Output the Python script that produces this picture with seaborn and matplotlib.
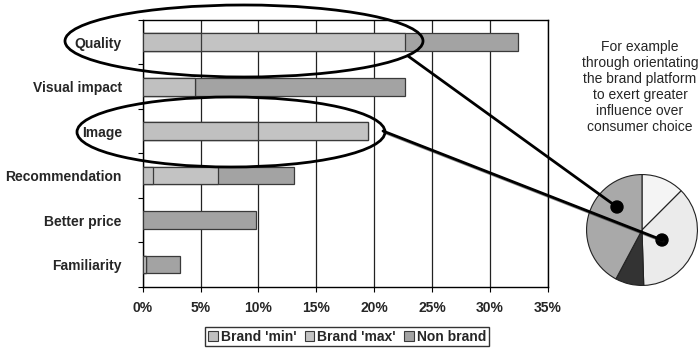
import matplotlib
matplotlib.use("Agg")
import matplotlib.pyplot as plt
import matplotlib.patheffects as pe
from matplotlib.patches import Ellipse, Circle, Patch
import numpy as np
import pandas as pd
import seaborn as sns

# ---- data -------------------------------------------------------------
categories = ["Quality", "Visual impact", "Image", "Recommendation",
              "Better price", "Familiarity"]
brand_min = [5.0, 4.5, 10.0, 0.9, 0.0, 0.3]
brand_max = [17.7, 0.0, 9.5, 5.6, 0.0, 0.0]
non_brand = [9.7, 18.2, 0.0, 6.6, 9.8, 2.9]
series_names = ["Brand 'min'", "Brand 'max'", "Non brand"]
x_ticks = [0, 5, 10, 15, 20, 25, 30, 35]
x_tick_labels = ["0%", "5%", "10%", "15%", "20%", "25%", "30%", "35%"]

pie_labels = ["Other", "Brand influence", "Price", "Non brand"]
pie_shares = [12.5, 37.0, 8.3, 42.2]
note_text = ("For example\nthrough orientating\nthe brand platform\n"
             "to exert greater\ninfluence over\nconsumer choice")

# ---- style ------------------------------------------------------------
sns.set_theme(style="white")
plt.rcParams["font.family"] = ["Liberation Sans", "DejaVu Sans"]

c_min = "#c0c0c0"
c_max = "#c3c3c3"
c_non = "#a3a3a3"
edge = "#3a3a3a"
pie_colors = ["#f4f4f4", "#ebebeb", "#333333", "#a9a9a9"]

W, H = 698, 348
fig = plt.figure(figsize=(W / 100, H / 100), dpi=100)
ax = fig.add_axes([142.7 / W, 1 - 286.7 / H, 405 / W, 266.7 / H])

df = pd.DataFrame({
    "category": categories,
    "min": brand_min,
    "max": brand_max,
    "non": non_brand,
})
df["cum_max"] = df["min"] + df["max"]
df["cum_non"] = df["cum_max"] + df["non"]

# stacked bars: draw the running totals from back to front
for col, color in [("cum_non", c_non), ("cum_max", c_max), ("min", c_min)]:
    sub = df[df[col] > 0]
    sns.barplot(data=sub, x=col, y="category", order=categories, orient="h",
                color=color, edgecolor=edge, linewidth=0.9, width=0.4,
                saturation=1, ax=ax, zorder=3)

ax.set_xlim(0, 35)
ax.set_ylim(5.5, -0.5)
ax.set_xticks(x_ticks)
ax.set_xticklabels(x_tick_labels, fontsize=10, fontweight="bold")
ax.set_yticks(range(len(categories)))
ax.set_yticklabels(categories, fontsize=10, fontweight="bold")
ax.set_yticks(np.arange(-0.5, len(categories)), minor=True)
ax.tick_params(axis="y", which="major", length=0, pad=15)
ax.tick_params(axis="y", which="minor", length=3.5, width=0.8, color="black",
               direction="out", left=True)
ax.tick_params(axis="x", length=3.5, width=0.8, color="black",
               direction="out", bottom=True, pad=7)
ax.set_xlabel("")
ax.set_ylabel("")
ax.xaxis.grid(True, color="#222222", linewidth=0.9)
ax.set_axisbelow(True)
for sp in ax.spines.values():
    sp.set_visible(True)
    sp.set_color("black")
    sp.set_linewidth(1.0)

handles = [Patch(facecolor=c, edgecolor=edge, linewidth=0.8)
           for c in (c_min, c_max, c_non)]
leg = fig.legend(handles, series_names, loc="center",
                 bbox_to_anchor=(347 / W, 1 - 336.7 / H), ncol=3,
                 frameon=True, fancybox=False, edgecolor="black",
                 handlelength=0.7, handleheight=0.7, handletextpad=0.2,
                 columnspacing=0.6, borderpad=0.2, borderaxespad=0,
                 prop={"weight": "bold", "size": 10})
leg.get_frame().set_linewidth(1.0)

# ---- pie --------------------------------------------------------------
pie_ax = fig.add_axes([586 / W, 1 - 286 / H, 112 / W, 112 / H])
pie_ax.pie(pie_shares, colors=pie_colors, startangle=90, counterclock=False,
           wedgeprops={"edgecolor": "#222222", "linewidth": 0.8})
pie_ax.set_xlim(-1.01, 1.01)
pie_ax.set_ylim(-1.01, 1.01)

fig.text(640 / W, 1 - 87 / H, note_text, ha="center", va="center",
         fontsize=10, linespacing=1.18)

# ---- callout overlay in pixel coordinates ------------------------------
ov = fig.add_axes([0, 0, 1, 1], zorder=10)
ov.set_xlim(0, W)
ov.set_ylim(H, 0)
ov.axis("off")
ov.patch.set_alpha(0)

ov.add_patch(Ellipse((244, 41), 358, 72, fill=False, edgecolor="black",
                     linewidth=2.0))
ov.add_patch(Ellipse((231, 132), 308, 70, fill=False, edgecolor="black",
                     linewidth=2.0))
ov.plot([408, 617], [56, 207], color="black", linewidth=2.0,
        solid_capstyle="round")
ov.plot([383, 662], [131, 240], color="black", linewidth=2.0,
        solid_capstyle="round",
        path_effects=[pe.SimpleLineShadow(offset=(1, -1), alpha=0.5),
                      pe.Normal()])
ov.add_patch(Circle((617, 207), 6, color="black"))
ov.add_patch(Circle((662, 240), 6, color="black"))

fig.savefig("out.png", dpi=100)
